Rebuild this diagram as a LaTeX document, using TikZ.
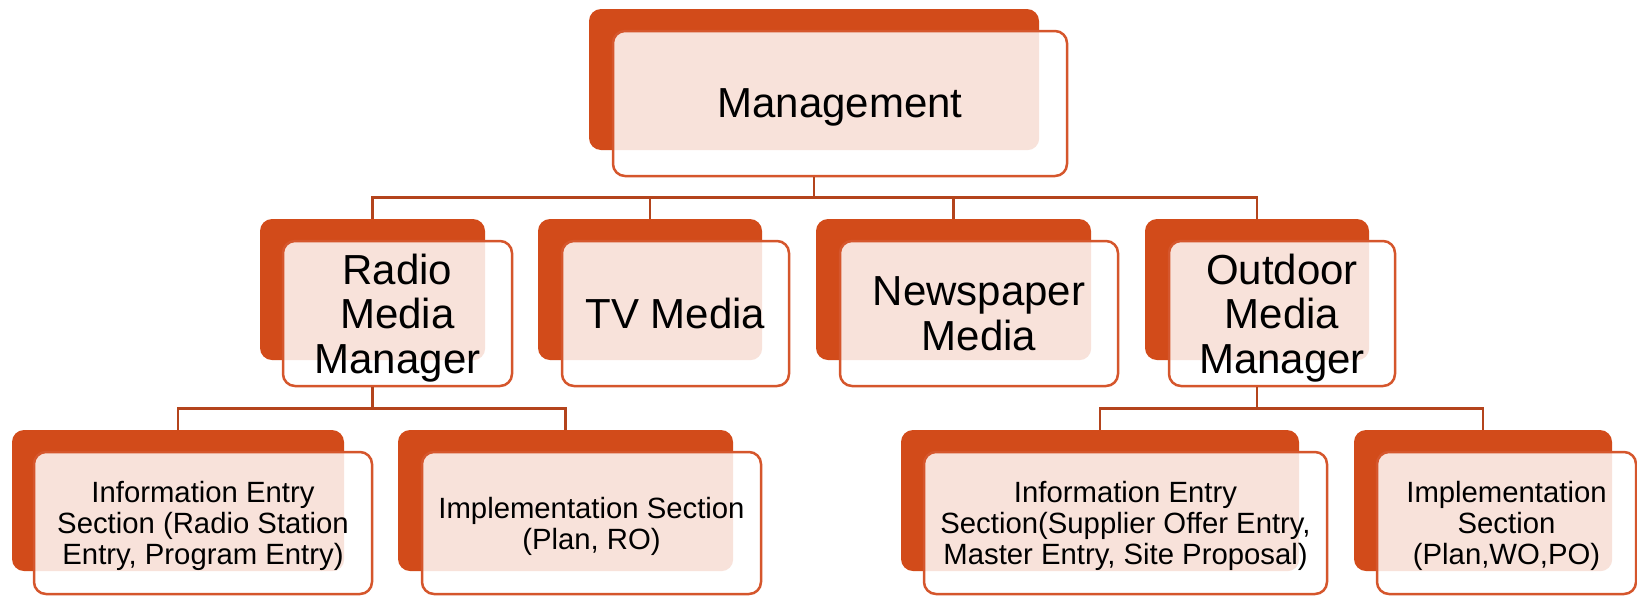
\documentclass[tikz,border=0pt]{standalone}
\usepackage{fontspec}
\setmainfont{Liberation Sans}
\definecolor{boxred}{HTML}{D24B1A}
\definecolor{boxline}{HTML}{D5562C}
\definecolor{linkred}{HTML}{B4441C}
\colorlet{tint}{boxred!16}
\begin{document}
\begin{tikzpicture}[x=1pt, y=-1pt]
  \tikzstyle{back}=[fill=boxred, rounded corners=12pt, inner sep=0pt, minimum height=141pt]
  \tikzstyle{link}=[draw=linkred, line width=2.5pt]
  \tikzset{front/.style={draw=boxline, line width=2.5pt, fill=white, rounded corners=12pt,
      inner sep=0pt, align=center, text depth=0pt,
      path picture={\fill[tint, rounded corners=12pt] (#1.south west) rectangle (#1.north east);}}}
  \tikzstyle{top}=[font=\fontsize{42}{49}\selectfont]
  \tikzstyle{mid}=[font=\fontsize{42}{44.5}\selectfont, minimum height=145pt]
  \tikzstyle{low}=[font=\fontsize{29.3}{31}\selectfont, minimum height=142pt]
  \useasboundingbox (0,0) rectangle (1637,595);

  \node[back, minimum width=450pt] (mgmtB) at (814, 79.5) {};
  \node[front=mgmtB, top, minimum width=454pt, minimum height=145pt] (mgmt) at (840, 103.5) {Management};

  \node[back, minimum width=225pt] (radioB) at (372.5, 289.5) {};
  \node[front=radioB, mid, minimum width=229pt] (radio) at (397.5, 313.5) {Radio\\Media\\Manager};

  \node[back, minimum width=224pt] (tvB) at (650, 289.5) {};
  \node[front=tvB, mid, minimum width=227pt] (tv) at (675.5, 313.5) {TV Media};

  \node[back, minimum width=275pt] (newsB) at (953.5, 289.5) {};
  \node[front=newsB, mid, minimum width=278pt] (news) at (979, 313.5) {Newspaper\\Media};

  \node[back, minimum width=224pt] (outdoorB) at (1257, 289.5) {};
  \node[front=outdoorB, mid, minimum width=226pt] (outdoor) at (1282, 313.5) {Outdoor\\Media\\Manager};

  \node[back, minimum width=332pt] (rinfoB) at (178, 500.5) {};
  \node[front=rinfoB, low, minimum width=338pt] (rinfo) at (203, 523)
    {Information Entry\\Section (Radio Station\\Entry, Program Entry)};

  \node[back, minimum width=335pt] (rimplB) at (565.5, 500.5) {};
  \node[front=rimplB, low, minimum width=339pt] (rimpl) at (591.5, 523)
    {Implementation Section\\(Plan, RO)};

  \node[back, minimum width=398pt] (oinfoB) at (1100, 500.5) {};
  \node[front=oinfoB, low, minimum width=403pt] (oinfo) at (1125.5, 523)
    {Information Entry\\Section(Supplier Offer Entry,\\Master Entry, Site Proposal)};

  \node[back, minimum width=258pt] (oimplB) at (1483, 500.5) {};
  \node[front=oimplB, low, minimum width=259pt] (oimpl) at (1506.5, 523)
    {Implementation\\Section\\(Plan,WO,PO)};

  % links
  \draw[link] (mgmtB |- mgmt.south) -- ++(0, 20) -| (radioB.north);
  \draw[link] (mgmtB |- mgmt.south) -- ++(0, 20) -| (tvB.north);
  \draw[link] (mgmtB |- mgmt.south) -- ++(0, 20) -| (newsB.north);
  \draw[link] (mgmtB |- mgmt.south) -- ++(0, 20) -| (outdoorB.north);

  \draw[link] (radioB |- radio.south) -- ++(0, 21) -| (rinfoB.north);
  \draw[link] (radioB |- radio.south) -- ++(0, 21) -| (rimplB.north);

  \draw[link] (outdoorB |- outdoor.south) -- ++(0, 21) -| (oinfoB.north);
  \draw[link] (outdoorB |- outdoor.south) -- ++(0, 21) -| (oimplB.north);
\end{tikzpicture}
\end{document}
